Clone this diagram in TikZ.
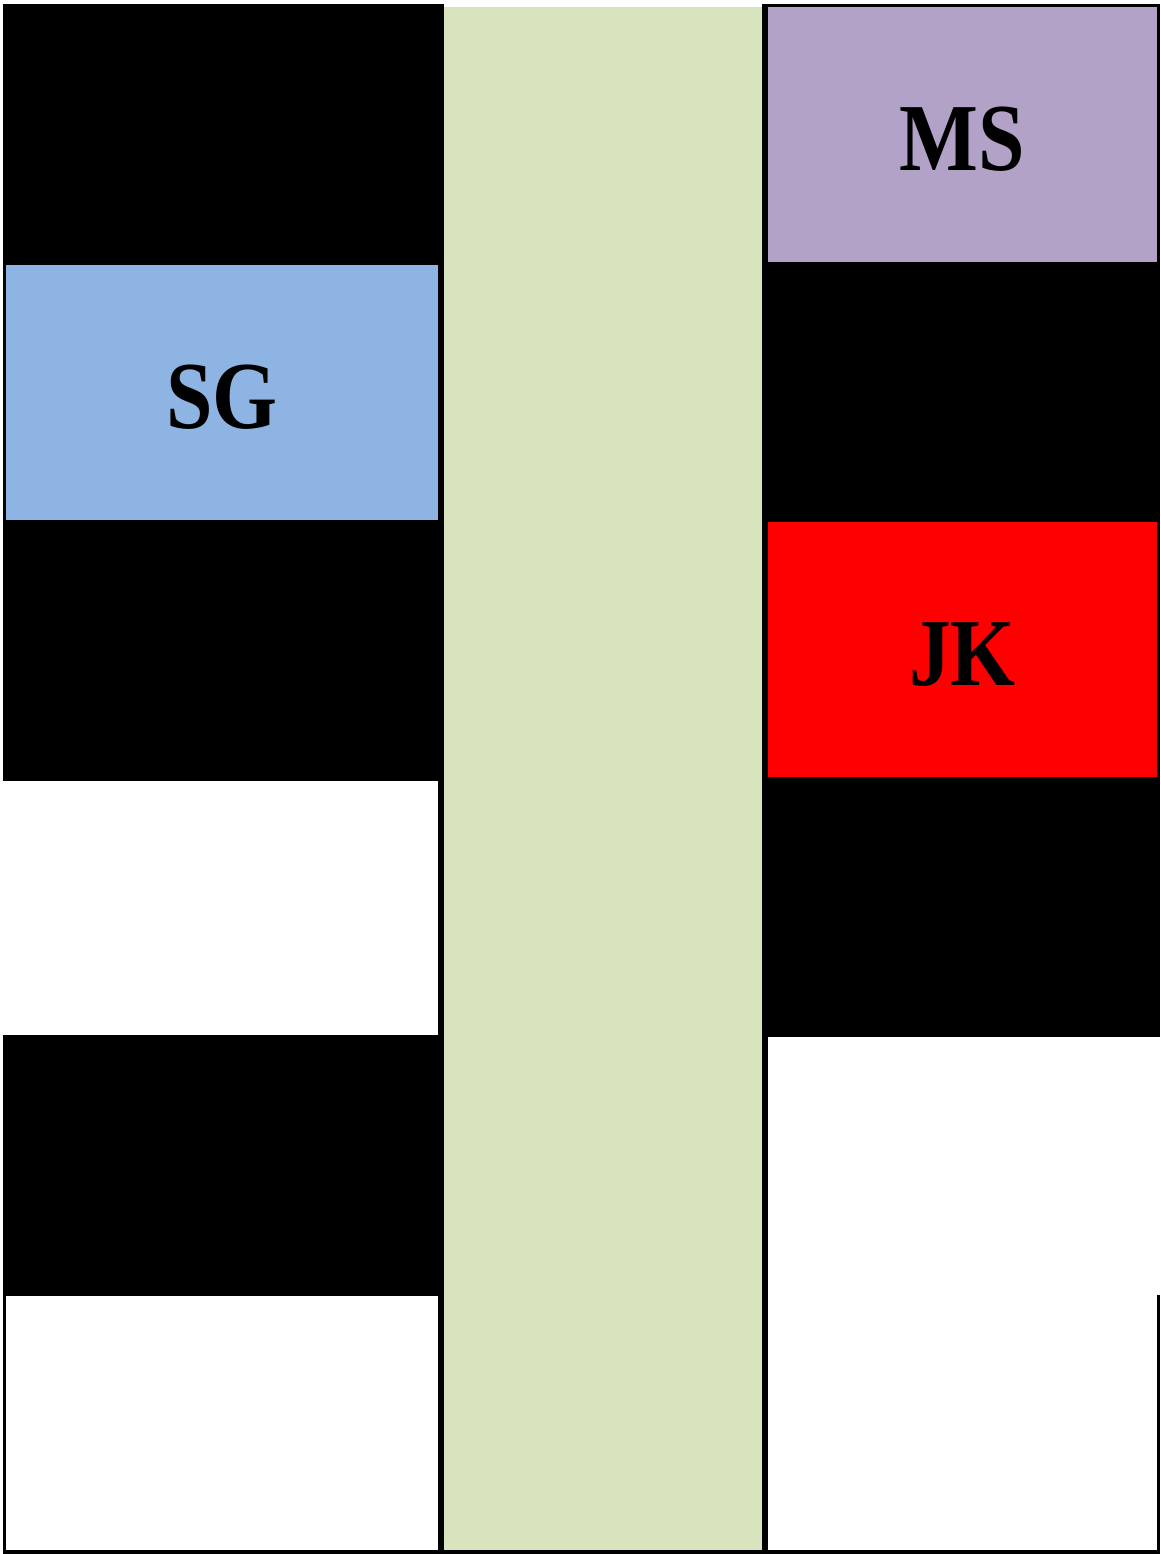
\documentclass[tikz,border=0pt]{standalone}
\usepackage{fontspec}
\setmainfont{Liberation Serif}
\newfontfamily\cellfont{Liberation Serif}[FakeStretch=0.87]
\definecolor{lanegreen}{HTML}{D7E4BD}
\definecolor{sgblue}{HTML}{8EB4E3}
\definecolor{mspurple}{HTML}{B2A2C7}
\definecolor{jkred}{HTML}{FF0000}

\begin{document}
\begin{tikzpicture}[x=1pt,y=-1pt,
  cellbox/.style={inner sep=0pt, minimum width=#1, minimum height=255pt,
    text height=72pt, text depth=0pt,
    font=\cellfont\bfseries\fontsize{96}{96}\selectfont},
  cellbox/.default=389pt]
\useasboundingbox (0,0) rectangle (1160,1554);
% middle lane
\fill[lanegreen] (444,7) rectangle (762,1551);
% left column
\fill (3,4) rectangle (444,265);
\node[cellbox=432pt, fill=sgblue] (sg) at (222,392.5) {SG};
\fill (3,520) rectangle (444,781);
\fill (3,1035) rectangle (444,1296);
\fill (3,4) rectangle (6,781);
\fill (3,1035) rectangle (6,1554);
\fill (438,4) rectangle (444,1554);
% right column
\fill (762,4) rectangle (1160,7);
\fill (762,4) rectangle (768,1554);
\node[cellbox, fill=mspurple] (ms) at (962.5,134.5) {MS};
\fill (762,262) rectangle (1160,522);
\node[cellbox, fill=jkred] (jk) at (962.5,649.5) {JK};
\fill (762,777) rectangle (1160,1037);
\fill (1157,4) rectangle (1160,1037);
\fill (1157,1295) rectangle (1160,1554);
% bottom rule
\fill (3,1550) rectangle (1160,1554);
\end{tikzpicture}
\end{document}
